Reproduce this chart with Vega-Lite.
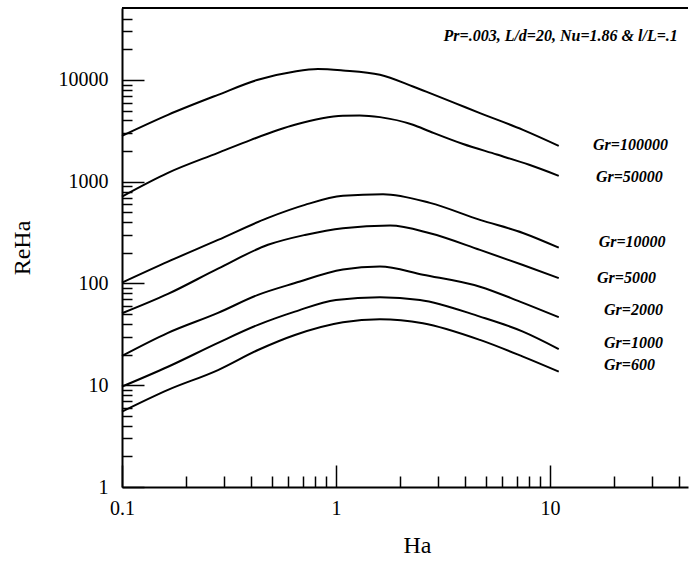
{
  "$schema": "https://vega.github.io/schema/vega-lite/v6.json",
  "width": 566,
  "height": 479,
  "autosize": "none",
  "padding": {"left": 122, "top": 8, "right": 1, "bottom": 75},
  "background": "white",
  "config": {
    "view": {"stroke": null},
    "axis": {"grid": false, "labelOverlap": false, "labelFlush": false, "domainColor": "black", "domainWidth": 2, "tickColor": "black", "tickWidth": 1.5,
      "labelFont": "Liberation Serif", "labelFontSize": 20, "labelColor": "black",
      "titleFont": "Liberation Serif", "titleFontSize": 24, "titleFontWeight": "normal", "titleColor": "black"}
  },
  "resolve": {"axis": {"x": "independent", "y": "independent"}},
  "datasets": {
    "curves": [
      {"Ha": 0.1, "ReHa": 2827, "Gr": 100000}, {"Ha": 0.164, "ReHa": 4547, "Gr": 100000}, {"Ha": 0.281, "ReHa": 7148, "Gr": 100000}, {"Ha": 0.432, "ReHa": 10050, "Gr": 100000}, {"Ha": 0.643, "ReHa": 12130, "Gr": 100000}, {"Ha": 0.824, "ReHa": 12800, "Gr": 100000}, {"Ha": 1.078, "ReHa": 12400, "Gr": 100000}, {"Ha": 1.605, "ReHa": 11250, "Gr": 100000}, {"Ha": 2.29, "ReHa": 8630, "Gr": 100000}, {"Ha": 2.75, "ReHa": 7430, "Gr": 100000}, {"Ha": 3.6, "ReHa": 5930, "Gr": 100000}, {"Ha": 4.71, "ReHa": 4728, "Gr": 100000}, {"Ha": 7.48, "ReHa": 3238, "Gr": 100000}, {"Ha": 11, "ReHa": 2254, "Gr": 100000},
      {"Ha": 0.1, "ReHa": 715, "Gr": 50000}, {"Ha": 0.164, "ReHa": 1223, "Gr": 50000}, {"Ha": 0.281, "ReHa": 1923, "Gr": 50000}, {"Ha": 0.401, "ReHa": 2583, "Gr": 50000}, {"Ha": 0.643, "ReHa": 3630, "Gr": 50000}, {"Ha": 1.078, "ReHa": 4446, "Gr": 50000}, {"Ha": 1.29, "ReHa": 4480, "Gr": 50000}, {"Ha": 1.605, "ReHa": 4316, "Gr": 50000}, {"Ha": 2.29, "ReHa": 3630, "Gr": 50000}, {"Ha": 2.75, "ReHa": 3118, "Gr": 50000}, {"Ha": 3.93, "ReHa": 2350, "Gr": 50000}, {"Ha": 5.65, "ReHa": 1850, "Gr": 50000}, {"Ha": 8.0, "ReHa": 1467, "Gr": 50000}, {"Ha": 11, "ReHa": 1143, "Gr": 50000},
      {"Ha": 0.1, "ReHa": 102, "Gr": 10000}, {"Ha": 0.164, "ReHa": 164, "Gr": 10000}, {"Ha": 0.281, "ReHa": 268, "Gr": 10000}, {"Ha": 0.481, "ReHa": 442, "Gr": 10000}, {"Ha": 0.716, "ReHa": 593, "Gr": 10000}, {"Ha": 1.078, "ReHa": 727, "Gr": 10000}, {"Ha": 1.66, "ReHa": 755, "Gr": 10000}, {"Ha": 2.75, "ReHa": 620, "Gr": 10000}, {"Ha": 4.71, "ReHa": 422, "Gr": 10000}, {"Ha": 7.48, "ReHa": 314, "Gr": 10000}, {"Ha": 11, "ReHa": 225, "Gr": 10000},
      {"Ha": 0.1, "ReHa": 51, "Gr": 5000}, {"Ha": 0.164, "ReHa": 79, "Gr": 5000}, {"Ha": 0.281, "ReHa": 140, "Gr": 5000}, {"Ha": 0.481, "ReHa": 240, "Gr": 5000}, {"Ha": 0.716, "ReHa": 300, "Gr": 5000}, {"Ha": 1.078, "ReHa": 350, "Gr": 5000}, {"Ha": 1.79, "ReHa": 371, "Gr": 5000}, {"Ha": 2.75, "ReHa": 312, "Gr": 5000}, {"Ha": 4.71, "ReHa": 214, "Gr": 5000}, {"Ha": 7.48, "ReHa": 152, "Gr": 5000}, {"Ha": 11, "ReHa": 113, "Gr": 5000},
      {"Ha": 0.1, "ReHa": 19.4, "Gr": 2000}, {"Ha": 0.164, "ReHa": 32.7, "Gr": 2000}, {"Ha": 0.281, "ReHa": 51.4, "Gr": 2000}, {"Ha": 0.432, "ReHa": 77.3, "Gr": 2000}, {"Ha": 0.643, "ReHa": 101, "Gr": 2000}, {"Ha": 1.078, "ReHa": 137, "Gr": 2000}, {"Ha": 1.605, "ReHa": 147, "Gr": 2000}, {"Ha": 2.55, "ReHa": 122, "Gr": 2000}, {"Ha": 4.71, "ReHa": 93, "Gr": 2000}, {"Ha": 7.24, "ReHa": 66.4, "Gr": 2000}, {"Ha": 11, "ReHa": 46.6, "Gr": 2000},
      {"Ha": 0.1, "ReHa": 9.7, "Gr": 1000}, {"Ha": 0.164, "ReHa": 15.2, "Gr": 1000}, {"Ha": 0.281, "ReHa": 26.1, "Gr": 1000}, {"Ha": 0.432, "ReHa": 39.2, "Gr": 1000}, {"Ha": 0.643, "ReHa": 52.9, "Gr": 1000}, {"Ha": 1.0, "ReHa": 69, "Gr": 1000}, {"Ha": 1.605, "ReHa": 73.3, "Gr": 1000}, {"Ha": 2.47, "ReHa": 69, "Gr": 1000}, {"Ha": 4.71, "ReHa": 47.3, "Gr": 1000}, {"Ha": 7.48, "ReHa": 33.7, "Gr": 1000}, {"Ha": 11, "ReHa": 22.7, "Gr": 1000},
      {"Ha": 0.1, "ReHa": 5.5, "Gr": 600}, {"Ha": 0.164, "ReHa": 9.0, "Gr": 600}, {"Ha": 0.281, "ReHa": 14.1, "Gr": 600}, {"Ha": 0.432, "ReHa": 22.2, "Gr": 600}, {"Ha": 0.643, "ReHa": 31.2, "Gr": 600}, {"Ha": 1.078, "ReHa": 41.6, "Gr": 600}, {"Ha": 1.605, "ReHa": 44.6, "Gr": 600}, {"Ha": 2.55, "ReHa": 40.7, "Gr": 600}, {"Ha": 4.71, "ReHa": 27.9, "Gr": 600}, {"Ha": 7.48, "ReHa": 19.1, "Gr": 600}, {"Ha": 11, "ReHa": 13.6, "Gr": 600}
    ],
    "labels": [
      {"Ha": 15.9, "ReHa": 2306, "label": "Gr=100000"},
      {"Ha": 16.4, "ReHa": 1125, "label": "Gr=50000"},
      {"Ha": 16.9, "ReHa": 258, "label": "Gr=10000"},
      {"Ha": 16.6, "ReHa": 113, "label": "Gr=5000"},
      {"Ha": 17.9, "ReHa": 55, "label": "Gr=2000"},
      {"Ha": 17.9, "ReHa": 25.9, "label": "Gr=1000"},
      {"Ha": 17.9, "ReHa": 15.8, "label": "Gr=600"}
    ],
    "note": [
      {"Ha": 39.6, "ReHa": 26800, "label": "Pr=.003, L/d=20, Nu=1.86 & l/L=.1"}
    ]
  },
  "layer": [
    {
      "data": {"name": "curves"},
      "mark": {"type": "line", "color": "black", "strokeWidth": 2, "interpolate": "monotone"},
      "encoding": {
        "x": {
          "field": "Ha", "type": "quantitative",
          "scale": {"type": "log", "domain": [0.1, 44.2], "nice": false},
          "axis": {
            "orient": "bottom", "title": "Ha", "values": [0.1, 1, 10],
            "labelExpr": "toString(datum.value)",
            "ticks": false, "labelPadding": 11, "domain": true,
            "titlePadding": 15, "titleX": 295
          }
        },
        "y": {
          "field": "ReHa", "type": "quantitative",
          "scale": {"type": "log", "domain": [1, 51000], "nice": false},
          "axis": {
            "orient": "left", "title": "ReHa", "values": [1, 10, 100, 1000, 10000],
            "labelExpr": "toString(datum.value)",
            "ticks": false, "labelPadding": 14, "domain": true,
            "titlePadding": 24
          }
        },
        "detail": {"field": "Gr", "type": "nominal"}
      }
    },
    {
      "data": {"values": [{"top": 51000}]},
      "mark": {"type": "rule", "color": "black", "strokeWidth": 2},
      "encoding": {"y": {"field": "top", "type": "quantitative", "axis": null}}
    },
    {
      "data": {"name": "labels"},
      "mark": {"type": "text", "align": "left", "baseline": "middle", "font": "Liberation Serif", "fontStyle": "italic", "fontWeight": "bold", "fontSize": 16, "color": "black"},
      "encoding": {
        "x": {"field": "Ha", "type": "quantitative",
          "axis": {"orient": "bottom", "title": null, "values": [0.1, 1, 10], "labels": false, "domain": false, "ticks": true, "tickSize": -22}},
        "y": {"field": "ReHa", "type": "quantitative",
          "axis": {"orient": "left", "title": null, "values": [1, 10, 100, 1000, 10000], "labels": false, "domain": false, "ticks": true, "tickSize": -22}},
        "text": {"field": "label"}
      }
    },
    {
      "data": {"name": "note"},
      "mark": {"type": "text", "align": "right", "baseline": "middle", "font": "Liberation Serif", "fontStyle": "italic", "fontWeight": "bold", "fontSize": 16, "color": "black"},
      "encoding": {
        "x": {"field": "Ha", "type": "quantitative",
          "axis": {"orient": "bottom", "title": null, "values": [0.2, 0.3, 0.4, 0.5, 0.6, 0.7, 0.8, 0.9, 2, 3, 4, 5, 6, 7, 8, 9, 20, 30, 40], "labels": false, "domain": false, "ticks": true, "tickSize": -11}},
        "y": {"field": "ReHa", "type": "quantitative",
          "axis": {"orient": "left", "title": null, "values": [2, 3, 4, 5, 6, 7, 8, 9, 20, 30, 40, 50, 60, 70, 80, 90, 200, 300, 400, 500, 600, 700, 800, 900, 2000, 3000, 4000, 5000, 6000, 7000, 8000, 9000, 20000, 30000, 40000], "labels": false, "domain": false, "ticks": true, "tickSize": -10}},
        "text": {"field": "label"}
      }
    }
  ]
}
